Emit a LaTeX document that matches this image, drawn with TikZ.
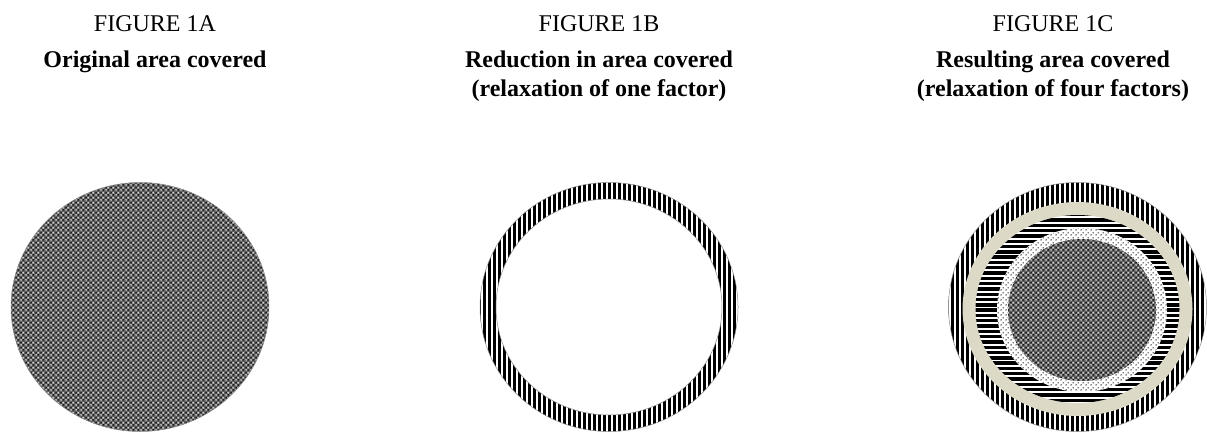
\documentclass[tikz,border=0pt]{standalone}
\usepackage{fontspec}
\setmainfont{Liberation Serif}
\usetikzlibrary{patterns.meta}
\definecolor{ringbeige}{RGB}{221,217,199}
\tikzdeclarepattern{
  name=dotgrid, type=uncolored,
  bounding box={(0pt,0pt) and (5pt,5pt)},
  tile size={(5pt,5pt)},
  code={\fill (1.25pt,1.25pt) circle (0.85pt); \fill (3.75pt,3.75pt) circle (0.85pt);}
}
\tikzdeclarepattern{
  name=weave-light, type=uncolored,
  bounding box={(0pt,0pt) and (5pt,5pt)},
  tile size={(5pt,5pt)},
  code={\fill (1.25pt,1.25pt) circle (0.95pt); \fill (3.75pt,3.75pt) circle (0.95pt);}
}
\tikzdeclarepattern{
  name=weave-dark, type=uncolored,
  bounding box={(0pt,0pt) and (5pt,5pt)},
  tile size={(5pt,5pt)},
  code={\fill (3.75pt,1.25pt) circle (1pt); \fill (1.25pt,3.75pt) circle (1pt);}
}
\tikzset{
  title/.style={font=\fontsize{24}{29}\selectfont, anchor=base, inner sep=0pt},
  subtitle/.style={font=\fontsize{24}{29}\selectfont\bfseries, anchor=base,
    align=center, inner sep=0pt},
  rim/.style={draw=black!45, line width=0.5pt}
}
\newcommand{\weavefill}[1]{%
  \fill[black!62] #1;
  \fill[pattern=weave-light, pattern color=white] #1;
  \fill[pattern=weave-dark, pattern color=black] #1;
}
% vertical bars from x=#1 over 52 periods, clipped by the caller
\newcommand{\vbars}[1]{%
  \foreach \i in {0,...,52}
    \fill (#1+\i*5,170) rectangle ++(2.6,275);
}

\begin{document}
\begin{tikzpicture}[x=1pt, y=-1pt]
  \useasboundingbox (0,0) rectangle (1207,441);
  % titles (base of a two-line node is its last line)
  \foreach \x/\n in {155/A, 599/B, 1053/C}
    \node[title] (title\n) at (\x,31.7) {FIGURE 1\n};
  \node[subtitle] (subA) at (155,68) {Original area covered};
  \node[subtitle] (subB) at (599,97) {Reduction in area covered\\(relaxation of one factor)};
  \node[subtitle] (subC) at (1053,97) {Resulting area covered\\(relaxation of four factors)};

  % figure 1A
  \coordinate (discA) at (140,307);
  \weavefill{(discA) ellipse [x radius=129, y radius=124.5]}
  \draw[rim] (discA) ellipse [x radius=129, y radius=124.5];

  % figure 1B
  \coordinate (discB) at (609,307);
  \begin{scope}
    \clip (discB) ellipse [x radius=129, y radius=124.5];
    \vbars{478}
  \end{scope}
  \fill[white] (discB) ellipse [x radius=113, y radius=108];
  \draw[rim] (discB) ellipse [x radius=129, y radius=124.5]
    (discB) ellipse [x radius=113, y radius=108];

  % figure 1C
  \coordinate (discC) at (1077.5,307);
  \coordinate (beigeC) at (1077.5,309);
  \coordinate (coreC) at (1082,310);
  \begin{scope}
    \clip (discC) ellipse [x radius=129, y radius=124.5];
    \vbars{946}
  \end{scope}
  \draw[rim] (discC) ellipse [x radius=129, y radius=124.5];
  \fill[ringbeige] (beigeC) ellipse [x radius=115, y radius=107];
  \begin{scope}
    \clip (beigeC) ellipse [x radius=102, y radius=94];
    \fill[white] (beigeC) ellipse [x radius=102, y radius=94];
    \foreach \j in {0,...,36}
      \fill (970,213+\j*5.3) rectangle ++(216,3.4);
  \end{scope}
  \fill[white] (coreC) ellipse [x radius=85, y radius=82];
  \fill[pattern=dotgrid] (coreC) ellipse [x radius=85, y radius=82];
  \weavefill{(coreC) ellipse [x radius=74, y radius=71]}
\end{tikzpicture}
\end{document}
